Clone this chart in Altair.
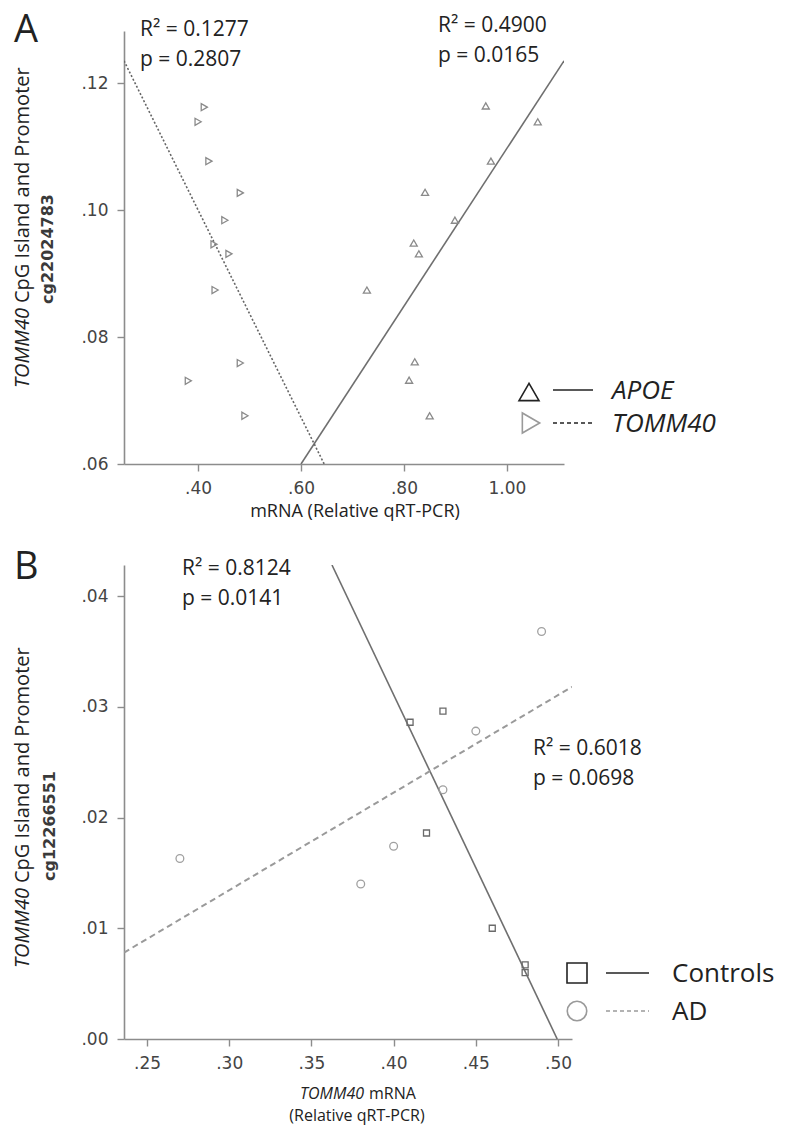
import altair as alt
import pandas as pd

# ---------------- Panel A data ----------------
apoe_x = [0.959, 1.060, 0.969, 0.841, 0.899, 0.819, 0.829, 0.728, 0.821, 0.810, 0.850]
apoe_y = [0.1164, 0.1139, 0.1077, 0.1028, 0.0984, 0.0948, 0.0931, 0.0874, 0.0761, 0.0732, 0.0676]
tomm_x = [0.412, 0.400, 0.421, 0.482, 0.452, 0.431, 0.460, 0.433, 0.482, 0.381, 0.491]
tomm_y = [0.1162, 0.1139, 0.1077, 0.1027, 0.0984, 0.0946, 0.0931, 0.0874, 0.0759, 0.0731, 0.0676]
apoe_fit_x = [0.600, 1.111]
apoe_fit_y = [0.0600, 0.1235]
tomm_fit_x = [0.256, 0.645]
tomm_fit_y = [0.1235, 0.0600]
a_xdomain = [0.256, 1.111]
a_ydomain = [0.06, 0.1282]
a_xticks = [0.40, 0.60, 0.80, 1.00]
a_yticks = [0.06, 0.08, 0.10, 0.12]

# ---------------- Panel B data ----------------
ctrl_x = [0.410, 0.430, 0.420, 0.460, 0.480, 0.480]
ctrl_y = [0.0286, 0.0296, 0.0186, 0.0100, 0.0067, 0.0060]
ad_x = [0.490, 0.450, 0.430, 0.270, 0.380, 0.400]
ad_y = [0.0368, 0.0278, 0.0225, 0.0163, 0.0140, 0.0174]
ctrl_fit_x = [0.3625, 0.4995]
ctrl_fit_y = [0.0428, 0.0000]
ad_fit_x = [0.236, 0.5085]
ad_fit_y = [0.0078, 0.0318]
b_xdomain = [0.236, 0.5085]
b_ydomain = [0.0, 0.0428]
b_xticks = [0.25, 0.30, 0.35, 0.40, 0.45, 0.50]
b_yticks = [0.00, 0.01, 0.02, 0.03, 0.04]

TXT = "Open Sans"
LBL = "DejaVu Sans"
lab_expr = ("datum.value >= 1 ? format(datum.value, '.2f') : "
            "substring(format(datum.value, '.2f'), 1)")


def xenc(domain, ticks):
    return alt.X("x:Q", scale=alt.Scale(domain=domain, nice=False, zero=False),
                 axis=alt.Axis(values=ticks, labelExpr=lab_expr, title=None))


def yenc(domain, ticks):
    return alt.Y("y:Q", scale=alt.Scale(domain=domain, nice=False, zero=False),
                 axis=alt.Axis(values=ticks, labelExpr=lab_expr, title=None))


one = alt.Data(values=[{"a": 1}])


def txt(s, x, y, size=21, align="left", baseline="alphabetic", angle=0,
        style="normal", font=TXT, color="#222", weight="normal"):
    kw = dict(text=s, align=align, baseline=baseline, fontSize=size,
              font=font, color=color, fontStyle=style, fontWeight=weight)
    if angle:
        kw["angle"] = angle
    return alt.Chart(one).mark_text(**kw).encode(x=alt.value(x), y=alt.value(y))


def legend_sym(shape, size, x, y, color):
    return alt.Chart(one).mark_point(shape=shape, size=size, filled=False,
                                     color=color, strokeWidth=1.6, opacity=1).encode(
        x=alt.value(x), y=alt.value(y))


def legend_line(x1, x2, y, color, dash=None):
    kw = dict(color=color, strokeWidth=1.6)
    if dash:
        kw["strokeDash"] = dash
    return alt.Chart(one).mark_rule(**kw).encode(
        x=alt.value(x1), x2=alt.value(x2), y=alt.value(y))


def pts(xs, ys, shape, size, color):
    df = pd.DataFrame({"x": xs, "y": ys})
    return alt.Chart(df).mark_point(shape=shape, size=size, filled=False,
                                    color=color, strokeWidth=1.3, opacity=1)


def fit(xs, ys, color, width, dash=None):
    df = pd.DataFrame({"x": xs, "y": ys})
    kw = dict(color=color, strokeWidth=width, clip=True)
    if dash:
        kw["strokeDash"] = dash
    return alt.Chart(df).mark_line(**kw)


# ---------------- Panel A ----------------
AW, AH = 440, 433
ax = xenc(a_xdomain, a_xticks)
ay = yenc(a_ydomain, a_yticks)
panelA = alt.layer(
    fit(apoe_fit_x, apoe_fit_y, "#6f6f6f", 1.6).encode(x=ax, y=ay),
    fit(tomm_fit_x, tomm_fit_y, "#666666", 1.6, [2, 2]).encode(x=ax, y=ay),
    pts(apoe_x, apoe_y, "triangle-up", 50, "#8a8a8a").encode(x=ax, y=ay),
    pts(tomm_x, tomm_y, "triangle-right", 50, "#8a8a8a").encode(x=ax, y=ay),
    txt("A", -110, 0, size=38, baseline="middle"),
    txt("R\u00b2 = 0.1277", 16, 5),
    txt("p = 0.2807", 16, 35),
    txt("R\u00b2 = 0.4900", 314, 1),
    txt("p = 0.0165", 314, 31),
    txt("TOMM40", -101, 277, size=20, align="right", baseline="middle",
        angle=270, style="italic"),
    txt("CpG Island and Promoter", -101, 272, size=20, align="left",
        baseline="middle", angle=270),
    txt("cg22024783", -76, 218, size=16, align="center", baseline="middle",
        angle=270, font=LBL, color="#3a3a3a", weight="bold"),
    txt("mRNA (Relative qRT-PCR)", 231, 481, size=18, align="center",
        baseline="middle"),
    legend_sym("triangle-up", 400, 405, 361, "#222"),
    legend_line(429, 469, 359, "#222"),
    txt("APOE", 488, 360, size=26, baseline="middle", style="italic"),
    legend_sym("triangle-right", 400, 407, 392, "#9a9a9a"),
    legend_line(429, 469, 392, "#222", [4, 3]),
    txt("TOMM40", 488, 393, size=26, baseline="middle", style="italic"),
).properties(width=AW, height=AH)

# ---------------- Panel B ----------------
BW, BH = 448, 474
bx = xenc(b_xdomain, b_xticks)
by = yenc(b_ydomain, b_yticks)
panelB = alt.layer(
    fit(ctrl_fit_x, ctrl_fit_y, "#6f6f6f", 1.6).encode(x=bx, y=by),
    fit(ad_fit_x, ad_fit_y, "#9a9a9a", 2.0, [6, 4]).encode(x=bx, y=by),
    pts(ctrl_x, ctrl_y, "square", 36, "#6a6a6a").encode(x=bx, y=by),
    pts(ad_x, ad_y, "circle", 60, "#a0a0a0").encode(x=bx, y=by),
    txt("B", -110, 3, size=38, baseline="middle"),
    txt("R\u00b2 = 0.8124", 58, 10),
    txt("p = 0.0141", 58, 40),
    txt("R\u00b2 = 0.6018", 409, 190),
    txt("p = 0.0698", 409, 220),
    txt("TOMM40", -101, 323, size=20, align="right", baseline="middle",
        angle=270, style="italic"),
    txt("CpG Island and Promoter", -101, 318, size=20, align="left",
        baseline="middle", angle=270),
    txt("cg12266551", -74, 261, size=16, align="center", baseline="middle",
        angle=270, font=LBL, color="#3a3a3a", weight="bold"),
    txt("TOMM40", 240, 529, size=16, align="right", baseline="middle",
        style="italic"),
    txt("mRNA", 245, 529, size=16, align="left", baseline="middle"),
    txt("(Relative qRT-PCR)", 233, 551, size=16, align="center",
        baseline="middle"),
    legend_sym("square", 400, 453, 408, "#222"),
    legend_line(482, 525, 408, "#222"),
    txt("Controls", 548, 409, size=26, baseline="middle"),
    legend_sym("circle", 380, 453, 446, "#9a9a9a"),
    legend_line(482, 525, 446, "#9a9a9a", [4, 3]),
    txt("AD", 548, 447, size=26, baseline="middle"),
).properties(width=BW, height=BH)

chart = alt.vconcat(panelA, panelB, spacing=101, bounds="flush").properties(
    padding={"left": 5, "top": 4, "right": 0, "bottom": 6}
).configure_view(stroke=None).configure_axis(
    grid=False,
    domainColor="#8c8c8c",
    domainWidth=1.6,
    tickColor="#8c8c8c",
    tickWidth=1.4,
    tickSize=7,
    labelFont=LBL,
    labelFontSize=17,
    labelColor="#444",
    labelPadding=9,
)

chart.save("out.html", embed_options={"renderer": "svg", "actions": False})
